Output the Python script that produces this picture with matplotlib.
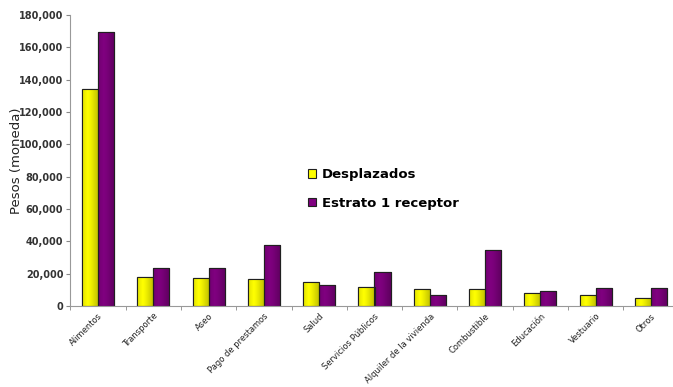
import matplotlib
matplotlib.use("Agg")
import matplotlib.pyplot as plt
import numpy as np
from matplotlib.ticker import FuncFormatter, FixedLocator

categorias = ["Alimentos", "Transporte", "Aseo", "Pago de prestamos", "Salud",
              "Servicios Públicos", "Alquiler de la vivienda", "Combustible",
              "Educación", "Vestuario", "Otros"]
desplazados = [134000, 17700, 17300, 16500, 14800, 11700, 10700, 10300, 7800, 6600, 4900]
estrato1 = [169300, 23300, 23300, 37700, 13200, 21000, 7000, 34800, 9500, 10900, 11300]

plt.rcParams["font.family"] = ["DejaVu Sans"]

fig = plt.figure(figsize=(6.73, 3.87), dpi=100)
ax = fig.add_axes([70.3 / 673, 81 / 387, 608.4 / 673, 291 / 387])

x = np.arange(len(categorias))
w = 0.29
b1 = ax.bar(x - w / 2, desplazados, w, color="#FFFF00", edgecolor="#202020",
            linewidth=0.8, label="Desplazados")
b2 = ax.bar(x + w / 2, estrato1, w, color="#800080", edgecolor="#202020",
            linewidth=0.8, label="Estrato 1 receptor")

# soft cylindrical shading on each bar
def shade(bars, base):
    base = np.array(matplotlib.colors.to_rgb(base))
    prof = np.linspace(0, 1, 64)
    light = 1 - 0.45 * np.abs(prof - 0.35) ** 1.2
    img = np.clip(base[None, :] * light[:, None], 0, 1)[None, :, :]
    for p in bars:
        x0, y0 = p.get_x(), p.get_y()
        im = ax.imshow(img, extent=[x0, x0 + p.get_width(), y0, y0 + p.get_height()],
                       aspect="auto", zorder=p.get_zorder() + 0.1, interpolation="bilinear")
        im.set_clip_path(p)
        ax.add_patch(plt.Rectangle((x0, y0), p.get_width(), p.get_height(), fill=False,
                                   edgecolor="#202020", linewidth=0.8,
                                   zorder=p.get_zorder() + 0.2))

shade(b1, "#FFFF00")
shade(b2, "#800080")

ax.set_xlim(-0.5, len(categorias) - 0.5)
ax.set_ylim(0, 180000)
ax.set_yticks(np.arange(0, 180001, 20000))
ax.yaxis.set_major_formatter(FuncFormatter(lambda v, p: f"{int(v):,}"))
for lab in ax.get_yticklabels():
    lab.set_fontweight("bold")
    lab.set_fontsize(7)
    lab.set_color("#333333")

ax.set_xticks(x)
ax.set_xticklabels(categorias, rotation=45, ha="right", rotation_mode="anchor",
                   fontsize=6, color="#222222")
ax.tick_params(axis="x", which="major", length=0, pad=4)
ax.xaxis.set_minor_locator(FixedLocator(np.arange(-0.5, len(categorias), 1.0)))
ax.tick_params(axis="x", which="minor", length=3, color="#888888", direction="out")
ax.tick_params(axis="y", length=3, color="#888888", direction="out", pad=2)

for s in ["top", "right"]:
    ax.spines[s].set_visible(False)
for s in ["left", "bottom"]:
    ax.spines[s].set_color("#999999")
    ax.spines[s].set_linewidth(0.8)

ax.set_ylabel("Pesos (moneda)", fontsize=9.5, color="#222222", labelpad=-3)

leg = ax.legend(loc="upper left", bbox_to_anchor=(0.372, 0.515), frameon=False,
                prop={"weight": "bold", "size": 9.5}, handlelength=0.6, handleheight=0.6,
                handletextpad=0.4, labelspacing=1.2)

fig.savefig("out.png", dpi=100, facecolor="white")
